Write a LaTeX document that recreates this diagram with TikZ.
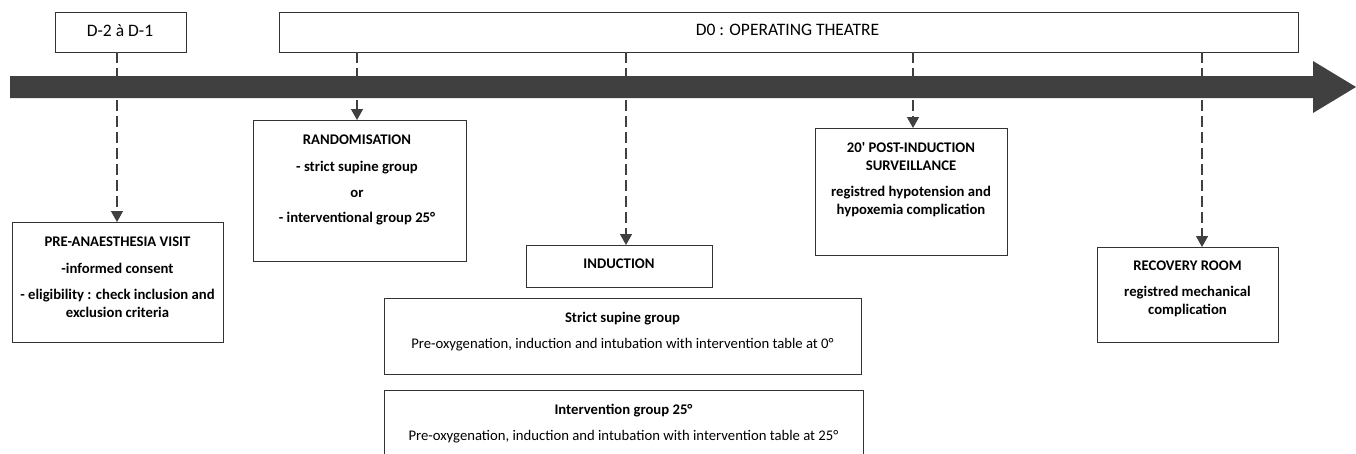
\documentclass[tikz,border=0pt]{standalone}
\usepackage{fontspec}
\setmainfont{Carlito}[Ligatures=TeXOff]
\usetikzlibrary{arrows.meta}
\definecolor{arrowgray}{HTML}{404040}
\definecolor{boxline}{HTML}{333333}
\tikzset{
  box/.style={draw=boxline, line width=0.9pt, inner sep=0pt, outer sep=0pt, anchor=north west},
  bt/.style={font=\fontsize{14.7}{17}\selectfont\bfseries, anchor=base, inner sep=0pt},
  rt/.style={font=\fontsize{14.7}{17}\selectfont, anchor=base, inner sep=0pt},
  ht/.style={font=\fontsize{17.5}{20}\selectfont, anchor=base, inner sep=0pt},
  link/.style={draw=arrowgray, line width=1.4pt, dash pattern=on 11pt off 5pt, -{Triangle[length=11pt,width=12pt]}},
}
\begin{document}
\begin{tikzpicture}[x=1pt,y=-1pt]
\useasboundingbox (0,0) rectangle (1356,453);
\clip (0,0) rectangle (1356,453);
% header boxes
\node[box, minimum width=131, minimum height=40] (dm) at (55,12) {};
\node[box, minimum width=1019, minimum height=40] (dz) at (279,12) {};
\node[ht] (dmt) at (120,36) {D-2 à D-1};
\node[ht] (dzt) at (787.5,35) {D0 : OPERATING THEATRE};
% lower boxes
\node[box, minimum width=211, minimum height=120] (pre) at (12,222) {};
\node[box, minimum width=213, minimum height=141] (rand) at (253,120) {};
\node[box, minimum width=186, minimum height=42] (ind) at (526,245) {};
\node[box, minimum width=192, minimum height=127] (post) at (815,128) {};
\node[box, minimum width=181, minimum height=95] (rec) at (1097,247) {};
\node[box, minimum width=477, minimum height=76] (ss) at (384,298) {};
\node[box, minimum width=479, minimum height=80] (ig) at (384,390) {};
% connectors
\coordinate (c1) at (117,52);
\coordinate (c2) at (357,52);
\coordinate (c3) at (626,52);
\coordinate (c4) at (913,52);
\coordinate (c5) at (1202,52);
\draw[link] (c1) -- (c1 |- pre.north);
\draw[link] (c2) -- (c2 |- rand.north);
\draw[link] (c3) -- (c3 |- ind.north);
\draw[link] (c4) -- (c4 |- post.north);
\draw[link] (c5) -- (c5 |- rec.north);
% timeline arrow
\fill[arrowgray] (10,76) -- (1313,76) -- (1313,61) -- (1356,87) -- (1313,113) -- (1313,98) -- (10,98) -- cycle;
% texts
\node[bt] (t1) at (117.5,246.5) {PRE-ANAESTHESIA VISIT};
\node[bt] (t2) at (117.5,273) {-informed consent};
\node[bt] (t3) at (117.5,299.5) {- eligibility : check inclusion and};
\node[bt] (t4) at (117.5,317) {exclusion criteria};
\node[bt] (t5) at (357,144) {RANDOMISATION};
\node[bt] (t6) at (357,171.5) {- strict supine group};
\node[bt] (t7) at (357,197.5) {or};
\node[bt] (t8) at (357,222.5) {- interventional group 25°};
\node[bt] (t9) at (619,268.5) {INDUCTION};
\node[bt] (t10) at (622.5,322) {Strict supine group};
\node[rt] (t11) at (622.5,348) {Pre-oxygenation, induction and intubation with intervention table at 0°};
\node[bt] (t12) at (623.5,414) {Intervention group 25°};
\node[rt] (t13) at (623.5,440) {Pre-oxygenation, induction and intubation with intervention table at 25°};
\node[bt] (t14) at (911,152.5) {20' POST-INDUCTION};
\node[bt] (t15) at (911,170.5) {SURVEILLANCE};
\node[bt] (t16) at (911,196.5) {registred hypotension and};
\node[bt] (t17) at (911,214.5) {hypoxemia complication};
\node[bt] (t18) at (1187.5,270.5) {RECOVERY ROOM};
\node[bt] (t19) at (1187.5,296.5) {registred mechanical};
\node[bt] (t20) at (1187.5,314.5) {complication};
\end{tikzpicture}
\end{document}
